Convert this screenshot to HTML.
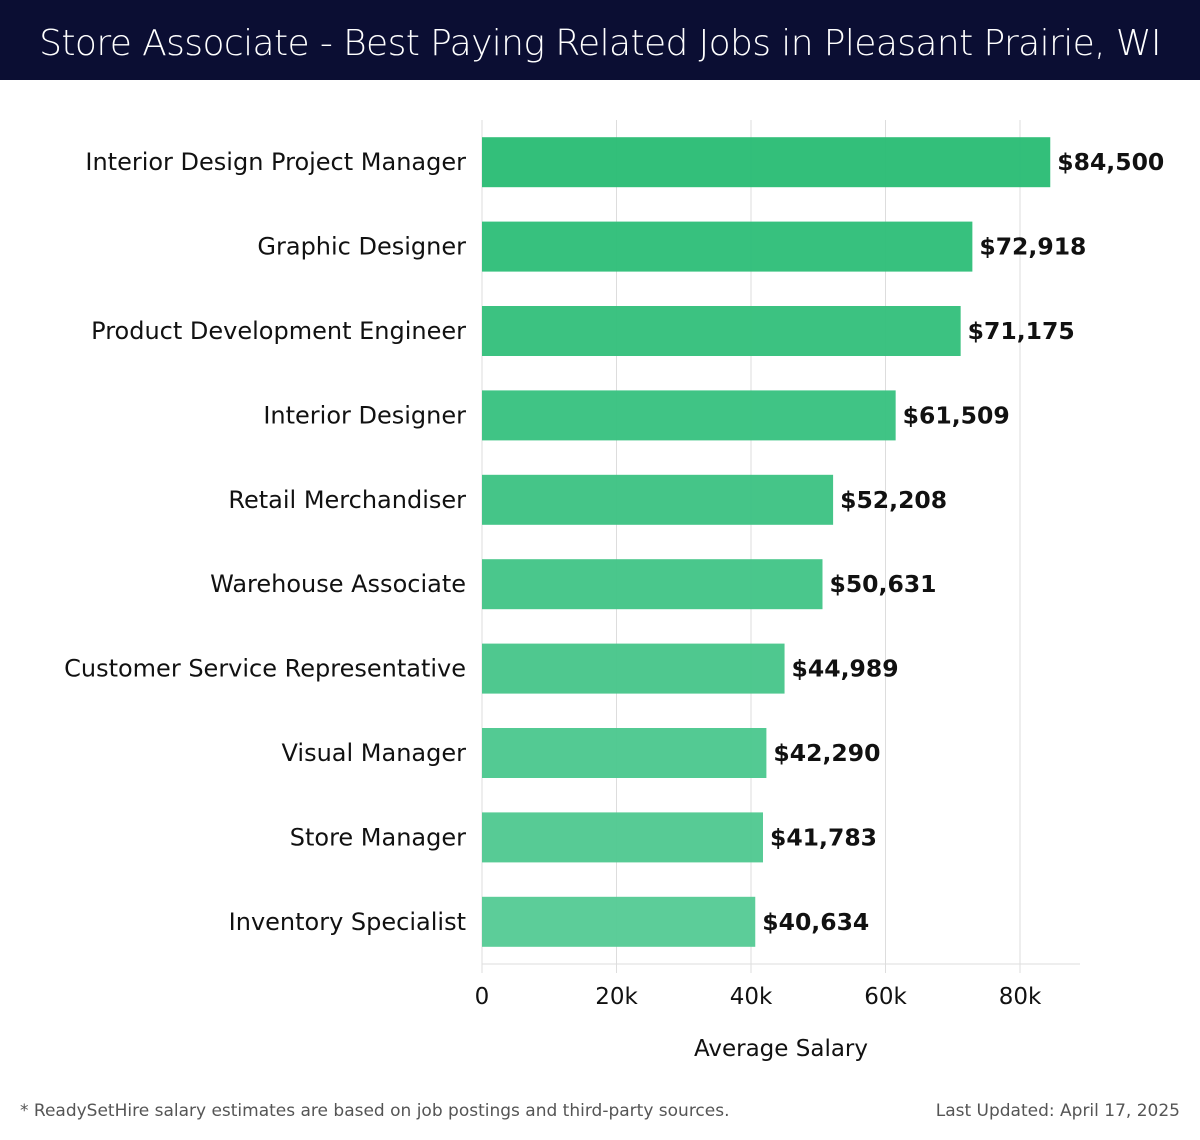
<!DOCTYPE html>
<html><head><meta charset="utf-8"><style>
body{margin:0;background:#fff;font-family:"DejaVu Sans","Liberation Sans",sans-serif;}
#wrap{position:relative;width:1200px;height:1140px;overflow:hidden}
#title{position:absolute;left:0;top:0;width:1200px;height:80px;background:#0b0e33;color:#fff;font-size:36px;line-height:88px;text-align:center;font-family:"DejaVu Sans","Liberation Sans",sans-serif;font-weight:300;letter-spacing:-0.6px}
.foot{position:absolute;top:1101px;font-size:17px;color:#555}
</style></head><body>
<div id="wrap">
<div id="title">Store Associate - Best Paying Related Jobs in Pleasant Prairie, WI</div>
<svg id="chart" width="1200" height="1140" style="position:absolute;left:0;top:0"></svg>
<div class="foot" style="left:20px">* ReadySetHire salary estimates are based on job postings and third-party sources.</div>
<div class="foot" style="right:20px">Last Updated: April 17, 2025</div>
</div>
<script>
const categories=["Interior Design Project Manager","Graphic Designer","Product Development Engineer","Interior Designer","Retail Merchandiser","Warehouse Associate","Customer Service Representative","Visual Manager","Store Manager","Inventory Specialist"];
const values=[84500,72918,71175,61509,52208,50631,44989,42290,41783,40634];
const tickValues=[0,20000,40000,60000,80000];
const tickLabels=["0","20k","40k","60k","80k"];
const NS="http://www.w3.org/2000/svg";
const svg=document.getElementById('chart');
const x0=482,pxPer=538/80000,top0=120,step=84.4,barH=50,axisY=964;
const xs=v=>x0+v*pxPer;
const yc=i=>top0+step*i+step/2;
function mk(t,a){const e=document.createElementNS(NS,t);for(const k in a)e.setAttribute(k,a[k]);svg.appendChild(e);return e;}
tickValues.forEach((v,i)=>{
 const g=mk('line',{x1:xs(v),x2:xs(v),y1:top0,y2:axisY+9,stroke:'#ddd','stroke-width':1});
 
 
 const t=mk('text',{x:xs(v),y:1004,'text-anchor':'middle','font-size':23,fill:'#111'});
 t.textContent=tickLabels[i];
 
 
});
const ax=mk('line',{x1:x0,x2:1080,y1:axisY,y2:axisY,stroke:'#ddd','stroke-width':1});


const at=mk('text',{x:781,y:1056,'text-anchor':'middle','font-size':23,fill:'#111'});
at.textContent='Average Salary';


function lerp(a,b,t){return Math.round(a+(b-a)*t);}
categories.forEach((c,i)=>{
 const t=i/(categories.length-1);
 const col=`rgb(${lerp(44,87,t)},${lerp(189,203,t)},${lerp(118,150,t)})`;
 const r=mk('rect',{x:x0,y:yc(i)-barH/2,width:xs(values[i])-x0,height:barH,fill:col,'fill-opacity':0.97});
 
 
 const l=mk('text',{x:466,y:yc(i)+8,'text-anchor':'end','font-size':24,fill:'#111'});
 l.textContent=c;
 
 
 const v=mk('text',{x:xs(values[i])+7,y:yc(i)+8,'font-size':23.5,'font-weight':'bold',fill:'#111'});
 v.textContent='$'+values[i].toLocaleString('en-US');
 
 
});
</script>
</body></html>
